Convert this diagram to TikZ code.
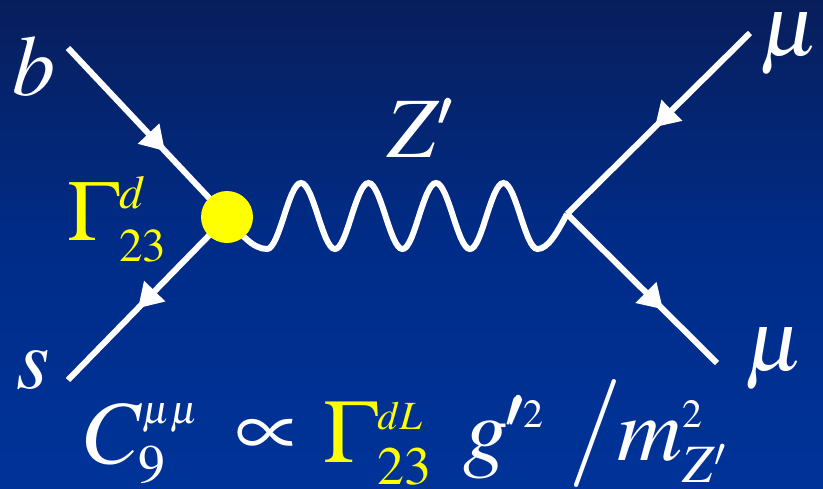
\documentclass[tikz,border=0pt]{standalone}
\usepackage{amsmath}
\usepackage{mathptmx}
\usepackage{tikz}
\usetikzlibrary{arrows.meta,decorations.markings}

\definecolor{navytop}{RGB}{8,30,92}
\definecolor{navymid}{RGB}{0,44,136}
\definecolor{navybot}{RGB}{0,51,153}
\definecolor{vtxyellow}{RGB}{255,255,0}

\DeclareMathSizes{86}{86}{47}{40}
\DeclareMathSizes{90}{90}{54}{40}
\newcommand{\lblfont}{\fontsize{86}{100}\selectfont}
\newcommand{\eqfont}{\fontsize{90}{100}\selectfont}

\begin{document}
\begin{tikzpicture}[x=1pt, y=-1pt,
    fermion/.style={white, line width=6pt, postaction={decorate},
      decoration={markings, mark=at position #1 with {\arrow{Triangle[length=24pt,width=28pt]}}}},
    fermion/.default=0.6,
    boson/.style={white, line width=6pt},
    lbl/.style={white, inner sep=0pt, font=\lblfont},
    eq/.style={white, inner sep=0pt, font=\eqfont, anchor=base west}]
    % Background
    \useasboundingbox (0,0) rectangle (823,488);
    \shade[top color=navytop, bottom color=navybot, middle color=navymid] (0,0) rectangle (823,488);

    % Vertices and external legs
    \coordinate (v1) at (227,217);
    \coordinate (v2) at (567,214);
    \coordinate (bin) at (68,48);
    \coordinate (sout) at (68,380);
    \coordinate (muin) at (750,33);
    \coordinate (muout) at (717,363);

    % Quark lines
    \draw[fermion=0.61] (bin) -- (v1);
    \draw[fermion=0.56] (v1) -- (sout);

    % Muon lines
    \draw[fermion=0.52] (muin) -- (v2);
    \draw[fermion=0.64] (v2) -- (muout);

    % Z' propagator
    \draw[boson] (v1) sin (267,249)
      \foreach \k in {0,...,3} {
        cos ({284+67.5*\k},216) sin ({301+67.5*\k},183)
        cos ({318+67.5*\k},216) sin ({335+67.5*\k},249)
      } cos (v2);

    % Effective vertex
    \fill[vtxyellow] (v1) circle (26);

    % Labels
    \node[lbl] (lb) at (34,66) {$b$};
    \node[lbl] (ls) at (33,370) {$s$};
    \node[lbl] (lmu1) at (790,44) {$\mu$};
    \node[lbl] (lmu2) at (775,359) {$\mu$};
    \node[lbl] (lz) at (420,128) {$Z^{\pmb{\prime}}$};
    \node[lbl, vtxyellow, anchor=base west] (lgam) at (67,240) {$\Gamma^{d}_{23}$};

    % Effective coupling
    \node[eq] (c9) at (85,463) {$C_9^{\scriptscriptstyle\mu\mu}$};
    \node[eq, anchor=center] (prop) at (268,438) {$\propto$};
    \node[eq, vtxyellow] (gam) at (323,462) {$\Gamma^{\scriptscriptstyle dL}_{23}$};
    \node[eq] (gp) at (463,460) {$g^{\pmb{\prime}\scriptscriptstyle 2}$};
    \node[eq, anchor=center, font=\fontsize{108}{108}\selectfont] (sl) at (595,434) {$/$};
    \node[eq] (mz) at (617,460) {$m^{\scriptscriptstyle 2}_{Z'}$};
\end{tikzpicture}
\end{document}
